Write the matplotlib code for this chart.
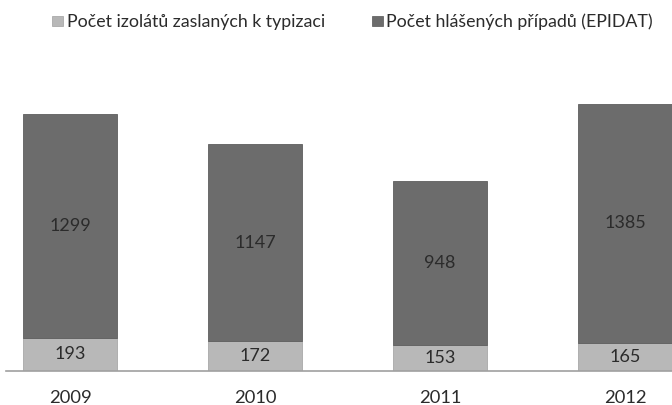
import matplotlib
matplotlib.use("Agg")
import matplotlib.pyplot as plt
from matplotlib.patches import Patch

years = ["2009", "2010", "2011", "2012"]
isolates = [193, 172, 153, 165]
reported = [1299, 1147, 948, 1385]
legend_labels = ["Počet izolátů zaslaných k typizaci", "Počet hlášených případů (EPIDAT)"]

light = "#b8b8b8"
dark = "#6c6c6c"
txt = "#2b2b2b"

plt.rcParams['font.family'] = ['Lato', 'DejaVu Sans']

W, H = 672, 405
fig = plt.figure(figsize=(W / 100, H / 100), dpi=100)
ax = fig.add_axes([6 / W, 34 / H, (W - 6) / W, 310 / H])

x = list(range(len(years)))
bw = 0.508
ax.bar(x, isolates, width=bw, color=light, edgecolor="#a8a8a8", linewidth=0.6)
ax.bar(x, reported, width=bw, bottom=isolates, color=dark, edgecolor="#5e5e5e", linewidth=0.6)

for xi, v in zip(x, isolates):
    ax.text(xi, v / 2, str(v), ha="center", va="center", fontsize=13, color=txt)
for xi, b, v in zip(x, isolates, reported):
    ax.text(xi, b + v / 2, str(v), ha="center", va="center", fontsize=13, color=txt)

ax.set_xlim(-0.346, 3.254)
ax.set_ylim(0, 1800)
ax.set_xticks(x)
ax.set_xticklabels(years, fontsize=13.2, color=txt)
ax.tick_params(axis="x", length=0, pad=14)
ax.set_yticks([])
for s in ["top", "right", "left"]:
    ax.spines[s].set_visible(False)
ax.spines["bottom"].set_color("#a0a0a0")
ax.spines["bottom"].set_linewidth(1.2)

fs = 12.8
handles = [Patch(facecolor=light, edgecolor="#a0a0a0", linewidth=0.5),
           Patch(facecolor=dark, edgecolor="#555555", linewidth=0.5)]
fig.legend(handles, legend_labels, loc="center left", bbox_to_anchor=(52 / W, 1 - 22 / H),
           ncol=2, frameon=False, fontsize=fs, handlelength=0.62, handleheight=0.55,
           handletextpad=0.2, columnspacing=2.64, labelcolor=txt,
           borderpad=0, borderaxespad=0)

fig.savefig("out.png", dpi=100)
